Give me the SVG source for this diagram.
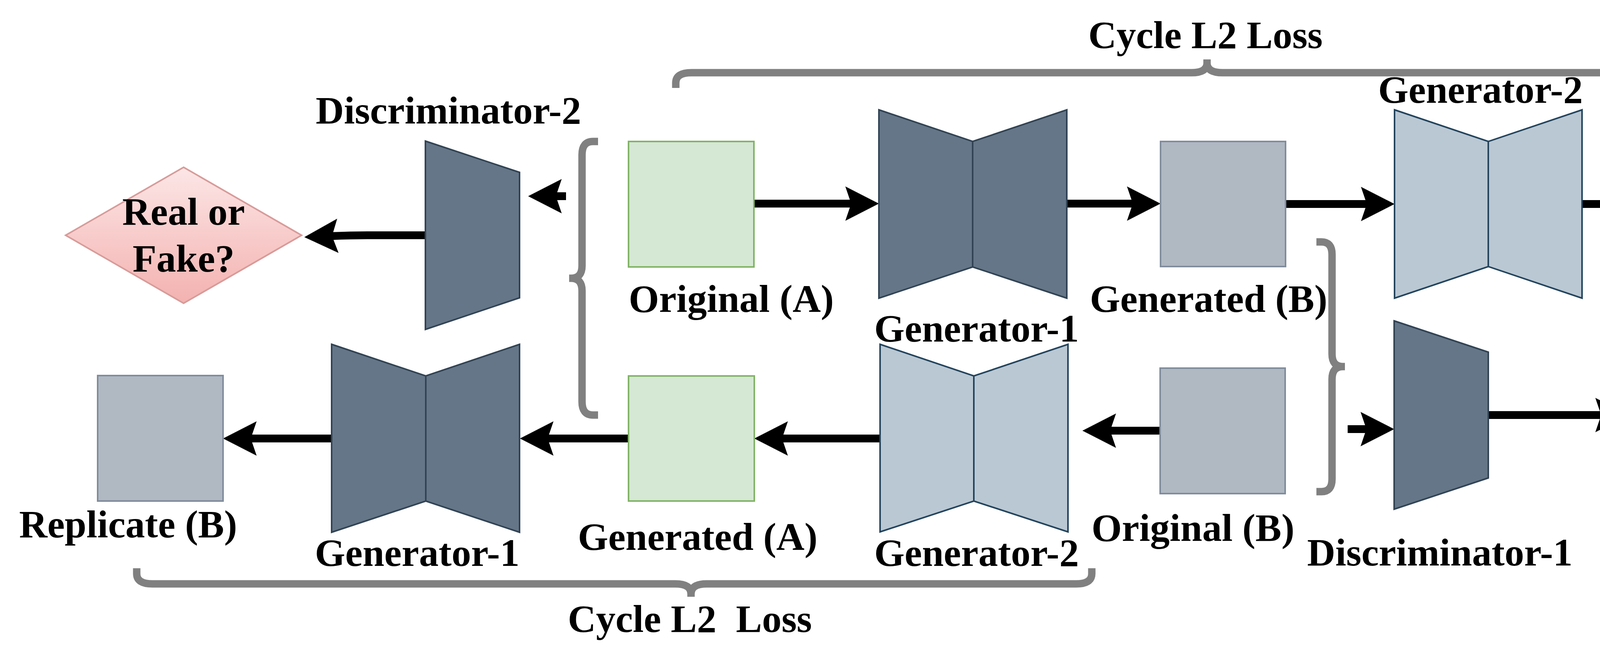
<svg xmlns="http://www.w3.org/2000/svg" width="4804" height="1676" viewBox="0 0 4804 1676">
<defs>
<style>
.lbl{font-family:"Liberation Serif","Times New Roman",serif;font-weight:bold;font-size:100px;fill:#000;text-anchor:middle;white-space:pre}
.gA{fill:#d5e8d4;stroke:#82b366;stroke-width:4}
.gB{fill:#b0b8c2;stroke:#7f8c9c;stroke-width:4}
.dark{fill:#647687;stroke:#314354;stroke-width:4;stroke-linejoin:miter}
.light{fill:#bac8d3;stroke:#23445d;stroke-width:4;stroke-linejoin:miter}
.brace{fill:none;stroke:#808080;stroke-width:19}
.edge{fill:none;stroke:#000;stroke-width:20;marker-end:url(#ah)}
.dia{fill:url(#pink);stroke:#d79b99;stroke-width:4}
</style>
<linearGradient id="pink" x1="0" y1="0" x2="0" y2="1">
<stop offset="0" stop-color="#fce6e6"/>
<stop offset="1" stop-color="#f3b2b0"/>
</linearGradient>
<marker id="ah" markerUnits="userSpaceOnUse" markerWidth="100" markerHeight="100" viewBox="-20 -50 100 100" refX="0" refY="0" orient="auto" overflow="visible">
<path d="M71,0 L-15,-44 L0,0 L-15,44 Z" fill="#000"/>
</marker>
</defs>
<rect width="4804" height="1676" fill="#fff"/>

<g id="connectors">
<path class="edge" d="M1089,602 L940,602 Q900,602 850,604"/>
<path class="edge" d="M1449,502 L1423,502"/>
<path class="edge" d="M1930,521 L2179,521"/>
<path class="edge" d="M2731,521 L2900,521"/>
<path class="edge" d="M3291,522 L3499,522"/>
<path class="edge" d="M4050,522 L4258,522"/>
<path class="edge" d="M3450,1098 L3498,1098"/>
<path class="edge" d="M3810,1062 L4099,1062"/>
<path class="edge" d="M2970,1102 L2842,1102"/>
<path class="edge" d="M2253,1122 L2002,1122"/>
<path class="edge" d="M1609,1122 L1402,1122"/>
<path class="edge" d="M849,1122 L642,1122"/>
</g>

<g id="brace-top">
<path class="brace" d="M1730,225 L1730,212 Q1730,186 1770,186 L3050,186 Q3090,186 3090,162 L3090,152 M3090,162 Q3090,186 3130,186 L4409,186 Q4449,186 4449,212 L4449,225"/>
<text class="lbl" x="3086" y="123">Cycle L2 Loss</text>
</g>
<g id="brace-bottom">
<path class="brace" d="M350,1454 L350,1468 Q350,1494 390,1494 L1729,1494 Q1769,1494 1769,1520 L1769,1527 M1769,1520 Q1769,1494 1809,1494 L2755,1494 Q2795,1494 2795,1468 L2795,1454"/>
<text class="lbl" x="1766" y="1617">Cycle L2  Loss</text>
</g>
<g id="brace-left">
<path class="brace" d="M1531,362 L1518,362 Q1490,362 1490,396 L1490,680 Q1490,712 1462,712 L1457,712 M1462,712 Q1490,712 1490,744 L1490,1028 Q1490,1062 1518,1062 L1531,1062"/>
</g>
<g id="brace-mid">
<path class="brace" d="M3370,619 L3383,619 Q3410,619 3410,651 L3410,906 Q3410,938 3438,938 L3443,938 M3438,938 Q3410,938 3410,970 L3410,1226 Q3410,1258 3383,1258 L3370,1258"/>
</g>

<g id="diamond-left">
<polygon class="dia" points="470,428 772,602 470,776 168,602"/>
<text class="lbl" x="470" y="575">Real or</text>
<text class="lbl" x="470" y="695">Fake?</text>
</g>
<g id="discriminator-2">
<polygon class="dark" points="1089,361 1330,441 1330,762 1089,843"/>
<text class="lbl" x="1148" y="316">Discriminator-2</text>
</g>
<g id="original-a">
<rect class="gA" x="1609" y="362" width="321" height="321"/>
<text class="lbl" x="1872" y="798">Original (A)</text>
</g>
<g id="generator-1-top">
<polygon class="dark" points="2250,281 2490,362 2731,281 2731,763 2490,683 2250,763"/>
<line x1="2490" y1="362" x2="2490" y2="683" stroke="#314354" stroke-width="4"/>
<text class="lbl" x="2500" y="874">Generator-1</text>
</g>
<g id="generated-b">
<rect class="gB" x="2971" y="362" width="320" height="320"/>
<text class="lbl" x="3094" y="798">Generated (B)</text>
</g>
<g id="generator-2-top">
<polygon class="light" points="3570,281 3810,362 4050,281 4050,763 3810,682 3570,763"/>
<line x1="3810" y1="362" x2="3810" y2="682" stroke="#23445d" stroke-width="4"/>
<text class="lbl" x="3790" y="263">Generator-2</text>
</g>
<g id="replicate-a">
<rect class="gA" x="4329" y="362" width="321" height="321"/>
<text class="lbl" x="4468" y="796">Replicate (A)</text>
</g>
<g id="discriminator-1">
<polygon class="dark" points="3569,821 3810,901 3810,1223 3569,1303"/>
<text class="lbl" x="3686" y="1447">Discriminator-1</text>
</g>
<g id="diamond-right">
<polygon class="dia" points="4471,888 4772,1062 4471,1235 4170,1062"/>
<text class="lbl" x="4468" y="1034">Real or</text>
<text class="lbl" x="4468" y="1157">Fake?</text>
</g>
<g id="original-b">
<rect class="gB" x="2970" y="942" width="320" height="321"/>
<text class="lbl" x="3054" y="1384">Original (B)</text>
</g>
<g id="generator-2-bottom">
<polygon class="light" points="2253,881 2493,962 2734,881 2734,1361 2493,1282 2253,1361"/>
<line x1="2493" y1="962" x2="2493" y2="1282" stroke="#23445d" stroke-width="4"/>
<text class="lbl" x="2500" y="1448">Generator-2</text>
</g>
<g id="generated-a">
<rect class="gA" x="1609" y="962" width="322" height="320"/>
<text class="lbl" x="1786" y="1407">Generated (A)</text>
</g>
<g id="generator-1-bottom">
<polygon class="dark" points="849,881 1090,962 1330,881 1330,1362 1090,1282 849,1362"/>
<line x1="1090" y1="962" x2="1090" y2="1282" stroke="#314354" stroke-width="4"/>
<text class="lbl" x="1068" y="1448">Generator-1</text>
</g>
<g id="replicate-b">
<rect class="gB" x="250" y="961" width="321" height="321"/>
<text class="lbl" x="328" y="1375">Replicate (B)</text>
</g>
</svg>
